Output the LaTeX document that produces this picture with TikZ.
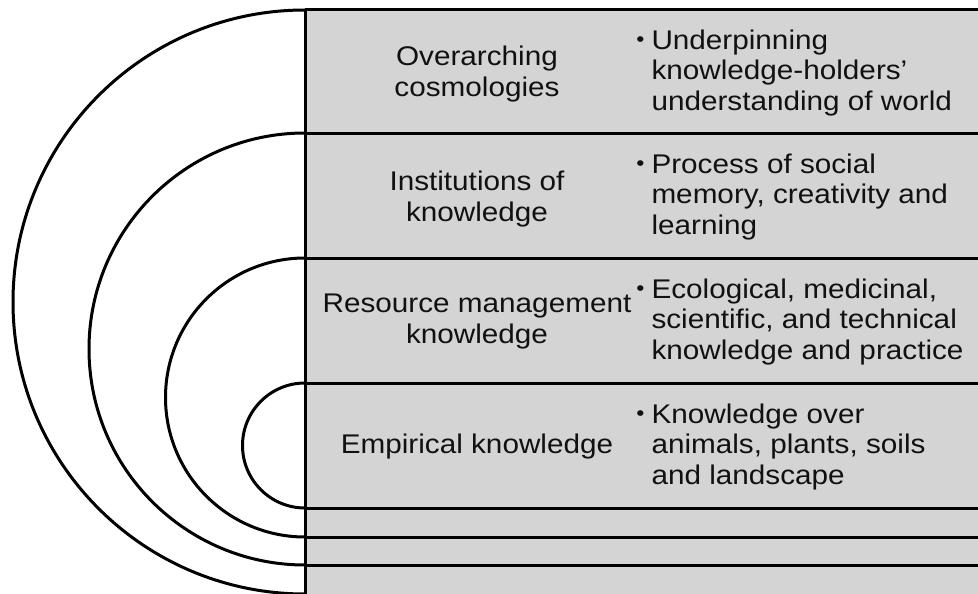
\documentclass[tikz,border=0pt]{standalone}
\usepackage{fontspec}
\setmainfont{Liberation Sans}[FakeStretch=1.1]
\definecolor{panel}{RGB}{212,212,212}
\definecolor{ink}{RGB}{17,17,17}
\newcommand{\bul}{\llap{\raisebox{3pt}{\fontsize{21}{21}\selectfont •}\hspace{7pt}}}
\begin{document}
\begin{tikzpicture}[x=1pt,y=-1pt,line width=3pt,
  lefttxt/.style={align=center,font=\fontsize{27}{31}\selectfont,inner sep=0pt,text=ink},
  righttxt/.style={align=left,anchor=west,font=\fontsize{27}{30.5}\selectfont,inner sep=0pt,text=ink},
  rule/.style={draw=black,line width=3pt}]
\useasboundingbox (0,0) rectangle (978,594);
\fill[panel] (305,10) rectangle (978,594);
\begin{scope}
  \clip (0,0) rectangle (305,594);
  \draw[rule] (305,302) circle[radius=292];
  \draw[rule] (305,349) circle[radius=216];
  \draw[rule] (305,397.5) circle[radius=139.5];
  \draw[rule] (305,445.5) circle[radius=62.5];
\end{scope}
\coordinate (v0) at (305,10);
\coordinate (v1) at (305,594);
\foreach \y/\n in {10/a,133/b,258/c,383/d,508/e,537/f,565/g}{
  \coordinate (l\n) at (305,\y);
  \coordinate (r\n) at (978,\y);
  \draw[rule] (l\n) -- (r\n);
}
\draw[rule] (v0) -- (v1);
\node[lefttxt] (t1) at (477,74) {Overarching\\cosmologies};
\node[lefttxt] (t2) at (477,199) {Institutions of\\knowledge};
\node[lefttxt] (t3) at (477,322) {Resource management\\knowledge};
\node[lefttxt] (t4) at (477,447) {Empirical knowledge};
\node[righttxt] (d1) at (650,73) {\bul Underpinning\\knowledge-holders’\\understanding of world};
\node[righttxt] (d2) at (650,197) {\bul Process of social\\memory, creativity and\\learning};
\node[righttxt] (d3) at (650,322) {\bul Ecological, medicinal,\\scientific, and technical\\knowledge and practice};
\node[righttxt] (d4) at (650,447) {\bul Knowledge over\\animals, plants, soils\\and landscape};
\end{tikzpicture}
\end{document}
